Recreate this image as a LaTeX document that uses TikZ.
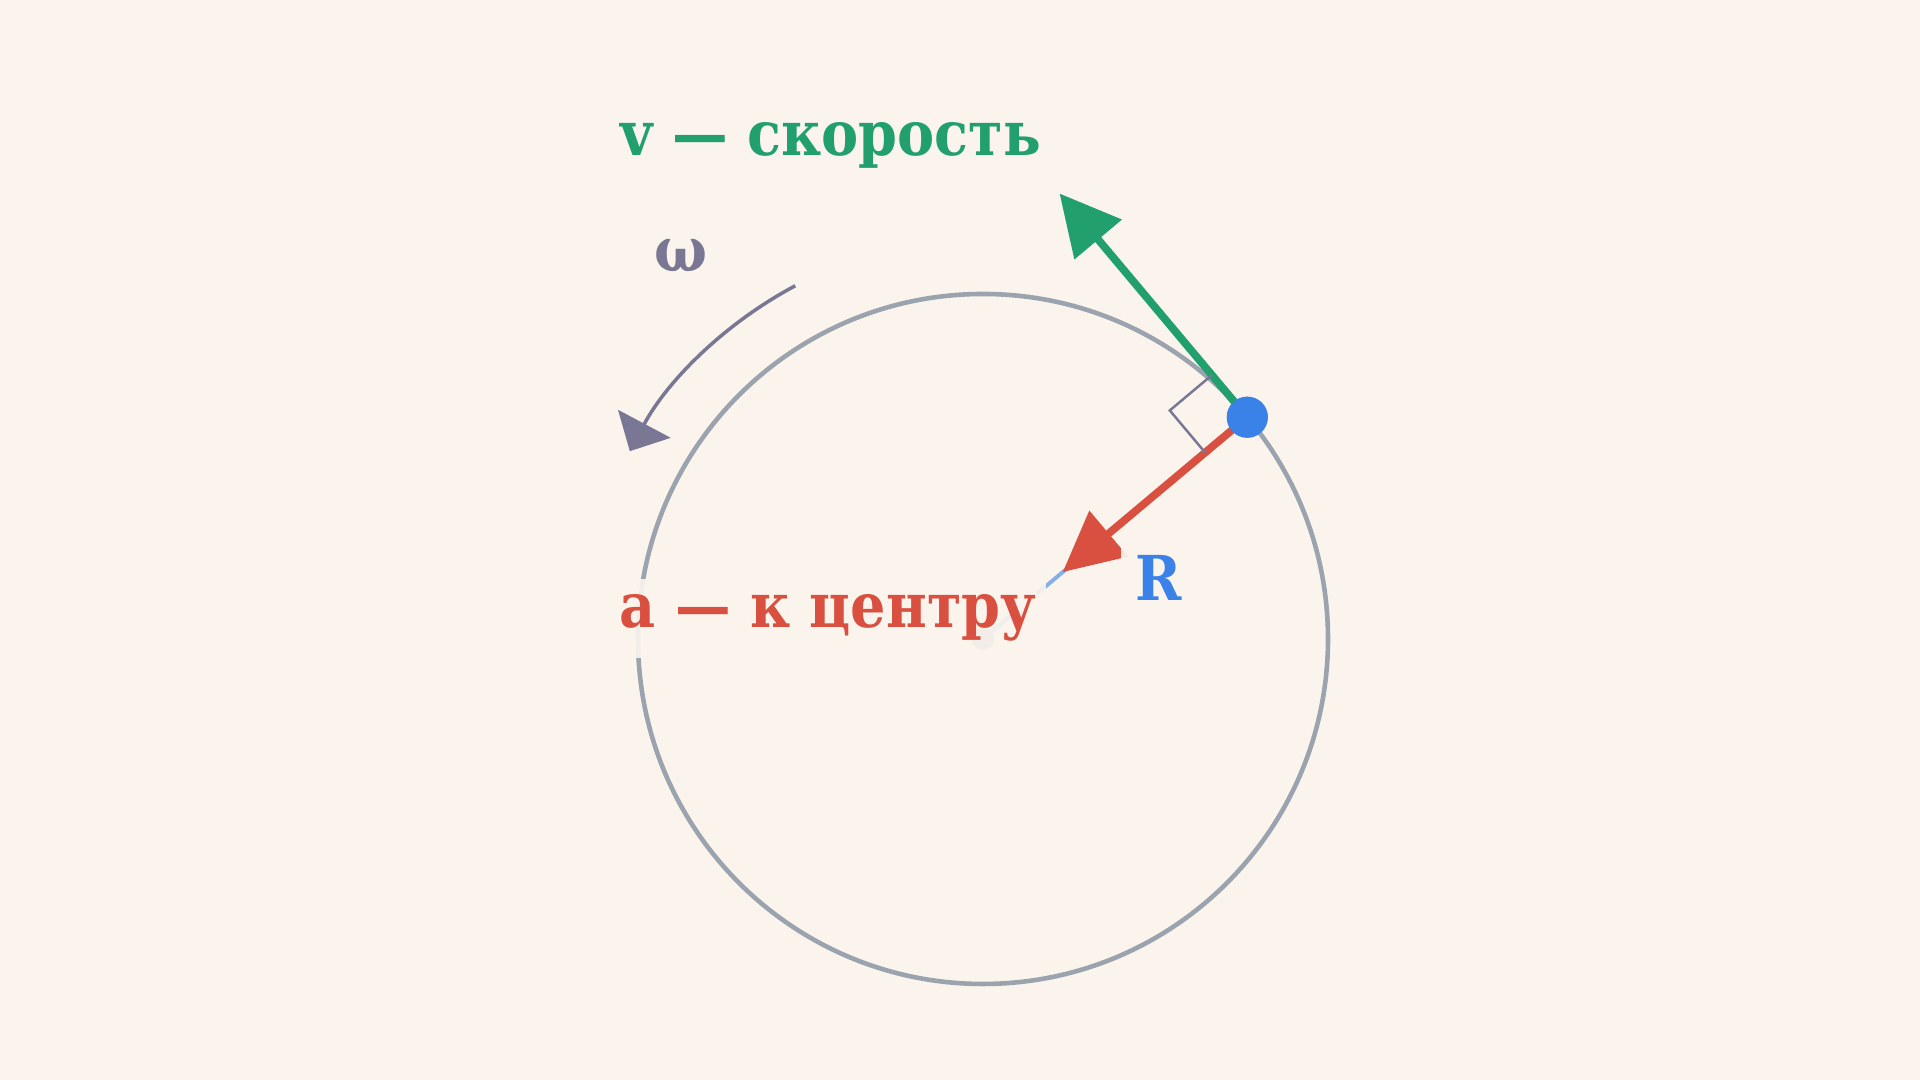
\documentclass[tikz,border=0pt]{standalone}
\usepackage{fontspec}
\setmainfont{DejaVu Serif Condensed}
\usetikzlibrary{arrows.meta}
\definecolor{bg}{HTML}{FAF4ED}
\definecolor{ringgray}{HTML}{9AA3AE}
\definecolor{velgreen}{HTML}{21A06E}
\definecolor{accred}{HTML}{D95040}
\definecolor{radblue}{HTML}{3A82E8}
\definecolor{omegagray}{HTML}{7A7794}
\tikzset{
  lbl/.style={font=\fontsize{17.6pt}{21pt}\selectfont\bfseries, anchor=base},
  lblbox/.style={fill=bg, fill opacity=0.92, text opacity=1}
}
\begin{document}
\begin{tikzpicture}[x=0.01cm,y=0.01cm]
  \fill[bg] (0,0) rectangle (1920,1080);
  \useasboundingbox (0,0) rectangle (1920,1080);
  \coordinate (O) at (983,441);
  \path (O) ++(40:345) coordinate (P);
  % circle, radius and centre
  \draw[ringgray, line width=1.3pt] (O) circle[radius=345];
  \draw[radblue, opacity=0.6, line width=1.1pt, dash pattern=on 4mm off 3mm] (O) -- (P);
  \node[circle, fill=ringgray, inner sep=0, minimum size=2.2mm] (ctr) at (O) {};
  % omega
  \draw[omegagray, line width=1pt, -{Triangle[length=3.1mm,width=5.9mm]}] (O) ++(118:400) arc[start angle=118, end angle=152, radius=400];
  % vectors
  \node[circle, fill=radblue, inner sep=0, minimum size=4.1mm] (pt) at (P) {};
  \draw[velgreen, line width=2.2pt, -{Triangle[length=6mm,width=6mm]}] (pt.center) -- ++(130:292) coordinate (vtip);
  \draw[accred, line width=2.2pt, -{Triangle[length=6mm,width=5.8mm]}] (pt.center) -- ++(220:241) coordinate (atip);
  \draw[omegagray, line width=0.7pt] (pt.center) ++(130:55) -- ++(220:55) -- ++(-50:55);
  \node[circle, fill=radblue, inner sep=0, minimum size=4.1mm] at (P) {};
  % labels
  \node[lbl, text=velgreen] (vlbl) at (831,924) {v — скорость};
  \node[lbl, text=omegagray] (wlbl) at (681,808) {ω};
  \node[lbl, lblbox, text=accred, inner xsep=1mm, inner ysep=1.6mm] (albl) at (828,452) {a — к центру};
  \node[lbl, lblbox, text=radblue, inner sep=1.5mm] (rlbl) at (1159,479) {R};
\end{tikzpicture}
\end{document}
